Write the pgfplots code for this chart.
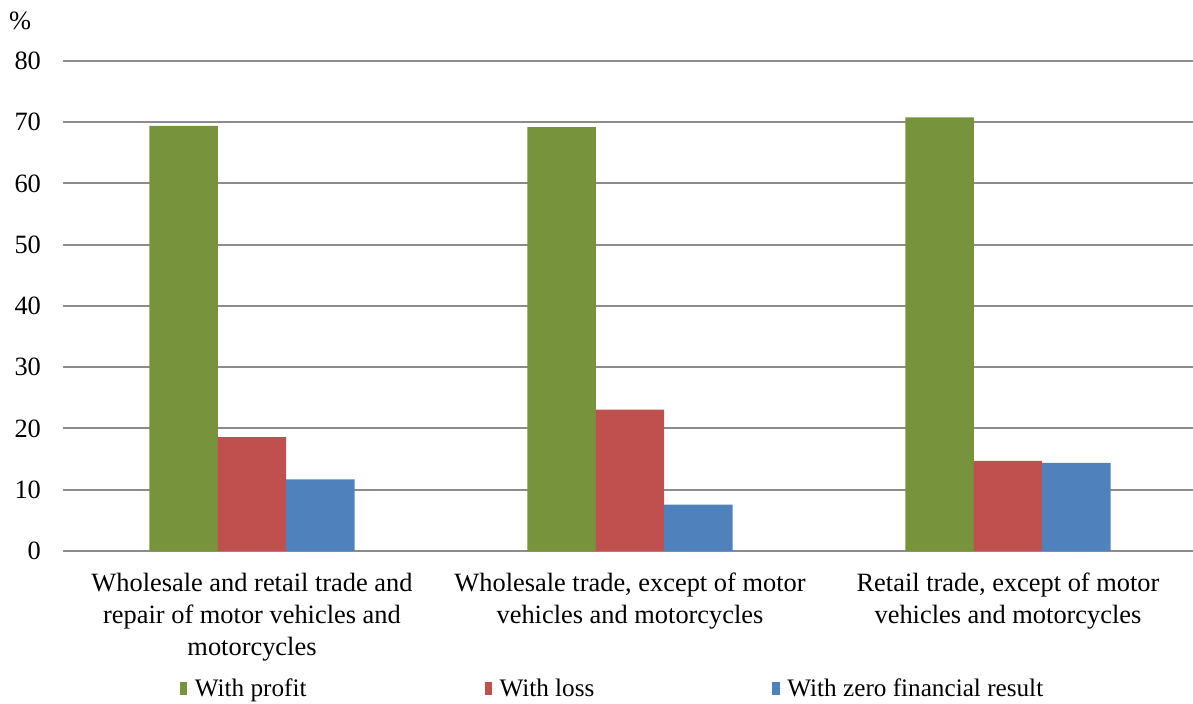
\documentclass[border=0pt]{standalone}
\usepackage{fontspec}
\setmainfont{Liberation Serif}
\usepackage{pgfplots}
\pgfplotsset{compat=1.18}
\definecolor{cgreen}{HTML}{77933C}
\definecolor{cred}{HTML}{C0504D}
\definecolor{cblue}{HTML}{4F81BD}
\definecolor{cgrid}{HTML}{8C8C8C}
\begin{document}
\begin{tikzpicture}
\useasboundingbox (0,0) rectangle (596.5pt,352pt);
\begin{axis}[
 at={(31.5pt,76.5pt)}, anchor=south west,
 width=567pt, height=245pt, scale only axis,
 clip=false,
 ybar=0pt, bar width=34.2pt,
 xmin=-0.5, xmax=2.5, ymin=0, ymax=80,
 ytick={0,10,20,30,40,50,60,70,80},
 xtick={0,1,2},
 xticklabels={{Wholesale and retail trade and\\repair of motor vehicles and\\motorcycles},{Wholesale trade, except of motor\\vehicles and motorcycles},{Retail trade, except of motor\\vehicles and motorcycles}},
 axis line style={draw=none},
 major tick length=0pt,
 ymajorgrids, grid style={cgrid, line width=1pt},
 font=\fontsize{13.2}{16}\selectfont,
 /pgf/number format/assume math mode=true,
 yticklabel style={anchor=east, xshift=-7.5pt, font=\fontsize{13.2}{16}\selectfont},
 xticklabel style={align=center, anchor=north, yshift=-7.5pt, font=\fontsize{13.2}{16}\selectfont},
 legend style={draw=none, at={(0.4855,-0.2816)}, anchor=center, legend columns=3,
   font=\fontsize{12.6}{16}\selectfont,
   /tikz/every even column/.append style={column sep=87pt}},
 legend image code/.code={\fill[#1] (0pt,-3.2pt) rectangle (3.6pt,3.3pt); \path (0pt,0pt) -- (5.5pt,0pt);},
]
\addplot[fill=cgreen, draw=none] coordinates {(0,69.4) (1,69.2) (2,70.8)};
\addplot[fill=cred, draw=none] coordinates {(0,18.6) (1,23.1) (2,14.7)};
\addplot[fill=cblue, draw=none] coordinates {(0,11.7) (1,7.55) (2,14.4)};
\legend{With profit, With loss, With zero financial result}
\node[font=\fontsize{13.2}{16}\selectfont] at (rel axis cs:0,1) [xshift=-21.5pt, yshift=20pt] {\%};
\end{axis}
\end{tikzpicture}
\end{document}
